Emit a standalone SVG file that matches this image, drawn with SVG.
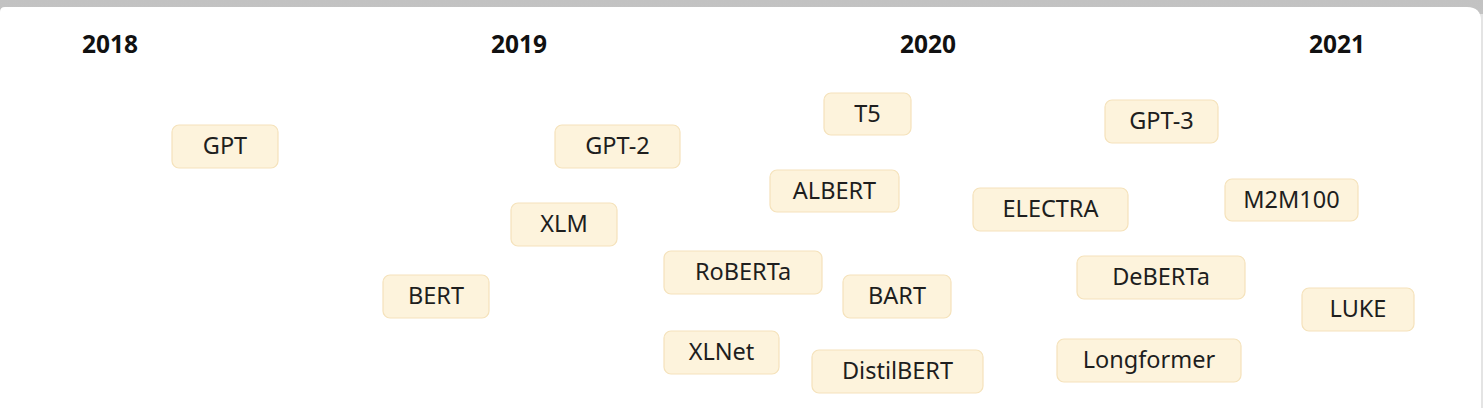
<svg xmlns="http://www.w3.org/2000/svg" width="1483" height="408" viewBox="0 0 1483 408">
<defs>
<linearGradient id="band" x1="0" y1="0" x2="0" y2="1">
<stop offset="0" stop-color="#c2c2c2"/>
<stop offset="1" stop-color="#dedede"/>
</linearGradient>
<style>
.yr{font-family:"Noto Sans","Liberation Sans",sans-serif;font-weight:bold;font-size:24.5px;fill:#111;text-anchor:middle}
.box{fill:#fdf3dc;stroke:#f5e2bb;stroke-width:1.2}
.lbl{font-family:"Noto Sans","Liberation Sans",sans-serif;font-size:23.5px;fill:#1e1e1e;text-anchor:middle;dominant-baseline:central}
</style>
</defs>
<rect x="0" y="0" width="1483" height="408" fill="url(#band)"/>
<rect x="0" y="14" width="1483" height="394" fill="#e4e4e4"/>
<path d="M0 12 Q0 7 5 7 L1467 7 Q1481 7 1481 21 L1481 408 L0 408 Z" fill="#ffffff"/>
<g id="years">
<text class="yr" x="110" y="53">2018</text>
<text class="yr" x="519" y="53">2019</text>
<text class="yr" x="928" y="53">2020</text>
<text class="yr" x="1337" y="53">2021</text>
</g>
<g id="connectors"></g>
<g id="node-gpt"><rect class="box" x="172" y="125" width="106" height="43" rx="7"/><text class="lbl" x="225" y="145">GPT</text></g>
<g id="node-gpt2"><rect class="box" x="555" y="125" width="125" height="43" rx="7"/><text class="lbl" x="617.5" y="145">GPT-2</text></g>
<g id="node-xlm"><rect class="box" x="511" y="203" width="106" height="43" rx="7"/><text class="lbl" x="564" y="223">XLM</text></g>
<g id="node-bert"><rect class="box" x="383" y="275" width="106" height="43" rx="7"/><text class="lbl" x="436" y="295">BERT</text></g>
<g id="node-t5"><rect class="box" x="824" y="93" width="87" height="42" rx="7"/><text class="lbl" x="867.5" y="112.5">T5</text></g>
<g id="node-albert"><rect class="box" x="770" y="170" width="129" height="42" rx="7"/><text class="lbl" x="834.5" y="189.5">ALBERT</text></g>
<g id="node-roberta"><rect class="box" x="664" y="251" width="158" height="43" rx="7"/><text class="lbl" x="743" y="271">RoBERTa</text></g>
<g id="node-bart"><rect class="box" x="843" y="275" width="108" height="43" rx="7"/><text class="lbl" x="897" y="295">BART</text></g>
<g id="node-xlnet"><rect class="box" x="664" y="331" width="115" height="43" rx="7"/><text class="lbl" x="721.5" y="351">XLNet</text></g>
<g id="node-distilbert"><rect class="box" x="812" y="350" width="171" height="43" rx="7"/><text class="lbl" x="897.5" y="370">DistilBERT</text></g>
<g id="node-electra"><rect class="box" x="973" y="188" width="155" height="43" rx="7"/><text class="lbl" x="1050.5" y="208">ELECTRA</text></g>
<g id="node-gpt3"><rect class="box" x="1105" y="100" width="113" height="43" rx="7"/><text class="lbl" x="1161.5" y="120">GPT-3</text></g>
<g id="node-m2m100"><rect class="box" x="1225" y="179" width="133" height="42" rx="7"/><text class="lbl" x="1291.5" y="198.5">M2M100</text></g>
<g id="node-deberta"><rect class="box" x="1077" y="256" width="168" height="43" rx="7"/><text class="lbl" x="1161" y="276">DeBERTa</text></g>
<g id="node-luke"><rect class="box" x="1302" y="288" width="112" height="43" rx="7"/><text class="lbl" x="1358" y="308">LUKE</text></g>
<g id="node-longformer"><rect class="box" x="1057" y="339" width="184" height="43" rx="7"/><text class="lbl" x="1149" y="359">Longformer</text></g>
</svg>
